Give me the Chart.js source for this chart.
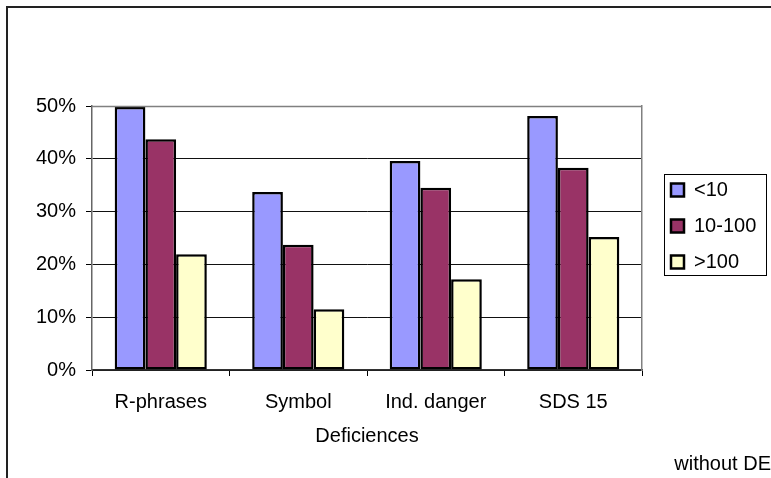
<!DOCTYPE html>
<html><head><meta charset="utf-8">
<script src="https://cdn.jsdelivr.net/npm/chart.js@4.4.1/dist/chart.umd.min.js"></script>
<style>html,body{margin:0;padding:0;background:#fff;overflow:hidden}</style>
</head><body>
<canvas id="c" width="771" height="478" style="display:block;width:771px;height:478px"></canvas>
<script>
const categories = ['R-phrases', 'Symbol', 'Ind. danger', 'SDS 15'];
const seriesNames = ['<10', '10-100', '>100'];
const valuesLt10 = [49.8, 33.7, 39.6, 48.1];
const values10to100 = [43.7, 23.7, 34.5, 38.3];
const valuesGt100 = [21.9, 11.5, 17.2, 25.2];
const yTickValues = [0, 10, 20, 30, 40, 50];
const xAxisTitle = 'Deficiences';
const footnote = 'without DE';

const FONT = "'Liberation Sans', Arial, sans-serif";
const colors = ['#9999FF', '#993366', '#FFFFCC'];
const seriesValues = [valuesLt10, values10to100, valuesGt100];

const decor = {
  id: 'decor',
  beforeDraw(chart) {
    const c = chart.ctx;
    c.save();
    c.fillStyle = '#fff';
    c.fillRect(0, 0, chart.width, chart.height);
    c.restore();
  },
  afterLayout(chart) {
    const lg = chart.legend;
    if (!lg) return;
    lg.left = 655; lg.right = lg.left + 110;
    lg.top = 164; lg.bottom = 452;
  },
  afterDraw(chart) {
    const c = chart.ctx;
    const a = chart.chartArea;
    c.save();
    // plot area top border
    c.strokeStyle = '#808080';
    c.lineWidth = 1.5;
    c.beginPath();
    c.moveTo(a.left, a.top + 0.5);
    c.lineTo(a.right, a.top + 0.5);
    c.stroke();
    // outer chart border
    c.strokeStyle = '#222';
    c.lineWidth = 2;
    c.beginPath();
    c.moveTo(7, chart.height);
    c.lineTo(7, 7);
    c.lineTo(chart.width, 7);
    c.stroke();
    // legend frame
    const lg = chart.legend;
    if (lg) {
      c.strokeStyle = '#000';
      c.lineWidth = 1;
      c.strokeRect(lg.left + 9.5, lg.top + 10.5, 102, 101);
    }
    c.restore();
  }
};

new Chart(document.getElementById('c'), {
  type: 'bar',
  data: {
    labels: categories,
    datasets: seriesNames.map((name, i) => ({
      label: name,
      data: seriesValues[i],
      backgroundColor: colors[i],
      borderColor: '#000',
      borderWidth: 2.5,
      borderSkipped: false,
      categoryPercentage: 0.67,
      barPercentage: 1.0
    }))
  },
  options: {
    responsive: false,
    animation: false,
    devicePixelRatio: 1,
    layout: { padding: { left: 0, top: 106, right: 0, bottom: 0 } },
    plugins: {
      tooltip: { enabled: false },
      legend: {
        position: 'right',
        align: 'start',
        maxWidth: 100,
        labels: {
          color: '#000',
          font: { family: FONT, size: 20 },
          boxWidth: 13,
          boxHeight: 13,
          padding: 16
        }
      },
      title: {
        display: true,
        text: footnote,
        position: 'bottom',
        align: 'end',
        color: '#000',
        font: { family: FONT, size: 20, weight: 'normal' },
        padding: { top: 0, bottom: 2 }
      }
    },
    scales: {
      x: {
        afterFit(s) { s.height = 82; },
        grid: {
          display: true,
          offset: true,
          drawOnChartArea: false,
          drawTicks: true,
          tickLength: 6,
          tickColor: '#000',
          tickWidth: 1
        },
        border: { display: true, color: '#333', width: 1.5 },
        ticks: { color: '#000', font: { family: FONT, size: 20 }, padding: 14, maxRotation: 0 },
        title: {
          display: true,
          text: xAxisTitle,
          color: '#000',
          font: { family: FONT, size: 20 },
          padding: { top: 0, bottom: 4 }
        }
      },
      y: {
        min: 0,
        max: 50,
        afterFit(s) { s.width = 92; },
        afterBuildTicks(s) { s.ticks = yTickValues.map(v => ({ value: v })); },
        grid: {
          color: (ctx) => (ctx.tick && ctx.tick.value === 50 ? '#808080' : '#111'),
          lineWidth: 1,
          drawTicks: true,
          tickLength: 6,
          tickColor: '#000'
        },
        border: { display: true, color: '#666', width: 1.5 },
        ticks: {
          color: '#000',
          font: { family: FONT, size: 20 },
          padding: 10,
          callback: (v) => v + '%'
        }
      },
      yRight: {
        position: 'right',
        min: 0,
        max: 50,
        afterFit(s) { s.width = 29; },
        grid: { drawOnChartArea: false, drawTicks: false },
        border: { display: true, color: '#808080', width: 1.5 },
        ticks: { display: false }
      }
    }
  },
  plugins: [decor]
});
</script>
</body></html>
